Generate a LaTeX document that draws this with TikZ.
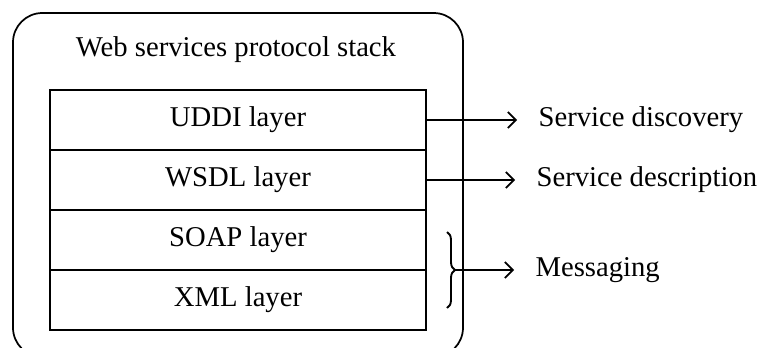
\documentclass[tikz,border=0pt]{standalone}
\usepackage{fontspec}
\setmainfont{Liberation Serif}
\usetikzlibrary{positioning, decorations.pathreplacing, arrows.meta}

\begin{document}
\begin{tikzpicture}[
    x=0.75pt, y=-0.75pt,
    font=\fontsize{21.5}{26}\selectfont,
    stackbox/.style={rectangle, draw, line width=1.3pt, rounded corners=22pt, minimum width=337.5pt, minimum height=258pt},
    layer/.style={rectangle, draw, line width=1.3pt, outer sep=0pt, minimum width=282pt, minimum height=45pt, align=center},
    desc/.style={anchor=west, inner xsep=16pt},
    arrow/.style={-{Straight Barb[length=6pt, width=12pt]}, line width=1.3pt}
]
    \clip (0, 0) rectangle (764, 347);

    % Outer box with its title
    \node[stackbox] (stack) at (238, 185) {};
    \node (title) at (236, 50) {Web services protocol stack};

    % The four layers, stacked
    \node[layer] (uddi) at (238, 120) {UDDI layer};
    \node[layer, below=0pt of uddi] (wsdl) {WSDL layer};
    \node[layer, below=0pt of wsdl] (soap) {SOAP layer};
    \node[layer, below=0pt of soap] (xml) {XML layer};

    % What each layer is for
    \node[desc] (discovery) at (517, 120) {Service discovery};
    \node[desc] (description) at (515, 180) {Service description};
    \node[desc] (messaging) at (514, 270) {Messaging};

    \draw[arrow] (uddi.east) -- (discovery.west);
    \draw[arrow] (wsdl.east) -- (description.west);

    % Brace over SOAP and XML
    \coordinate (bracetop) at (447, 232);
    \coordinate (bracebot) at (447, 308);
    \coordinate (bracetip) at (455, 270);
    \draw[line width=1.4pt, decorate, decoration={brace, amplitude=6pt}] (bracetop) -- (bracebot);
    \draw[arrow] (bracetip) -- (messaging.west);
\end{tikzpicture}
\end{document}
